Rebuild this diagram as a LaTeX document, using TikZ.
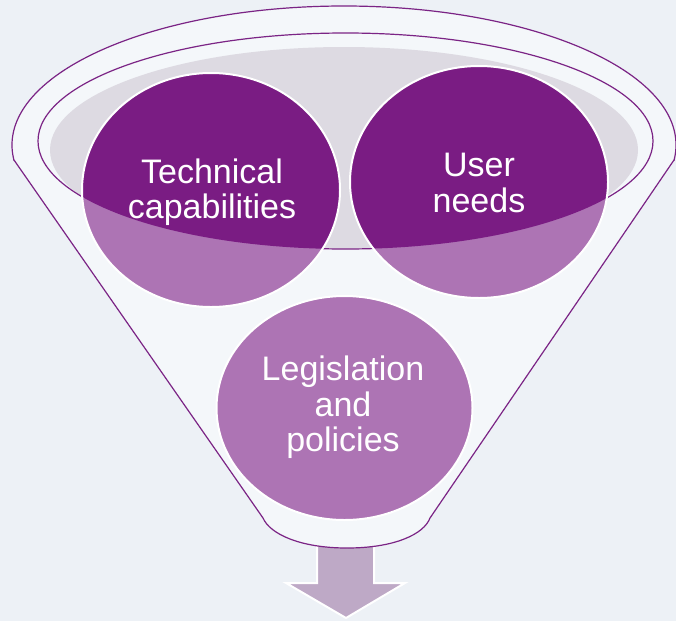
\documentclass[tikz,border=0pt]{standalone}
\usepackage{fontspec}
\setmainfont{Liberation Sans}
\usetikzlibrary{shapes.geometric}
\definecolor{bgc}{RGB}{237,241,246}
\definecolor{bodyc}{RGB}{244,247,250}
\definecolor{linec}{RGB}{123,36,133}
\definecolor{grayc}{RGB}{221,218,226}
\definecolor{darkp}{RGB}{122,28,131}
\definecolor{lightp}{RGB}{173,116,180}
\definecolor{arrowc}{RGB}{190,169,198}
\tikzset{
  bubble/.style={ellipse, inner sep=0pt, fill=lightp},
  bubbleedge/.style={draw=white, line width=2pt},
  label/.style={text=white, align=center, font=\fontsize{34}{35.5}\selectfont, inner sep=0pt},
  funnelline/.style={draw=linec, line width=1.2pt},
}
\begin{document}
\begin{tikzpicture}[x=1pt,y=-1pt]
\fill[bgc] (0,0) rectangle (676,621);
\useasboundingbox (0,0) rectangle (676,621);
% arrow
\draw[fill=arrowc, draw=white, line width=2pt, line join=miter]
  (317,540) -- (374,540) -- (374,583) -- (405,583) -- (346,618) -- (286,583) -- (317,583) -- cycle;
% funnel body
\begin{scope}
  \clip (0,0) rectangle (676,160);
  \fill[bodyc] (344,145) ellipse [x radius=332, y radius=139];
\end{scope}
\fill[bodyc] (14,160) -- (674,160) -- (430,518) .. controls (424,534) and (395,548) .. (347,548)
  .. controls (300,548) and (270,534) .. (263,518) -- cycle;
\begin{scope}
  \clip (0,0) rectangle (676,160);
  \draw[funnelline] (344,145) ellipse [x radius=332, y radius=139];
\end{scope}
\draw[funnelline] (14,160) -- (263,518) .. controls (270,534) and (300,548) .. (347,548)
  .. controls (395,548) and (424,534) .. (430,518) -- (674,160);
% inner rim
\begin{scope}
  \clip (345.5,141) ellipse [x radius=307.5, y radius=108];
  \fill[grayc] (344,150) ellipse [x radius=294, y radius=103];
\end{scope}
\draw[funnelline] (345.5,141) ellipse [x radius=307.5, y radius=108];
% bubbles
\node[bubble, minimum width=258pt, minimum height=234pt] (tech) at (211,190) {};
\node[bubble, minimum width=258pt, minimum height=232pt] (user) at (479,182) {};
\node[bubble, minimum width=256pt, minimum height=224pt] (legis) at (344.5,408) {};
\begin{scope}
  \clip (345.5,141) ellipse [x radius=307.5, y radius=108];
  \fill[darkp] (211,190) ellipse [x radius=129, y radius=117];
  \fill[darkp] (479,182) ellipse [x radius=129, y radius=116];
\end{scope}
\draw[bubbleedge] (211,190) ellipse [x radius=129, y radius=117];
\draw[bubbleedge] (479,182) ellipse [x radius=129, y radius=116];
\draw[bubbleedge] (344.5,408) ellipse [x radius=128, y radius=112];
% labels
\node[label] (techt) at (212,192) {Technical\\capabilities};
\node[label] (usert) at (479,183) {User\\needs};
\node[label] (legist) at (343,407.5) {Legislation\\and\\policies};
\end{tikzpicture}
\end{document}
